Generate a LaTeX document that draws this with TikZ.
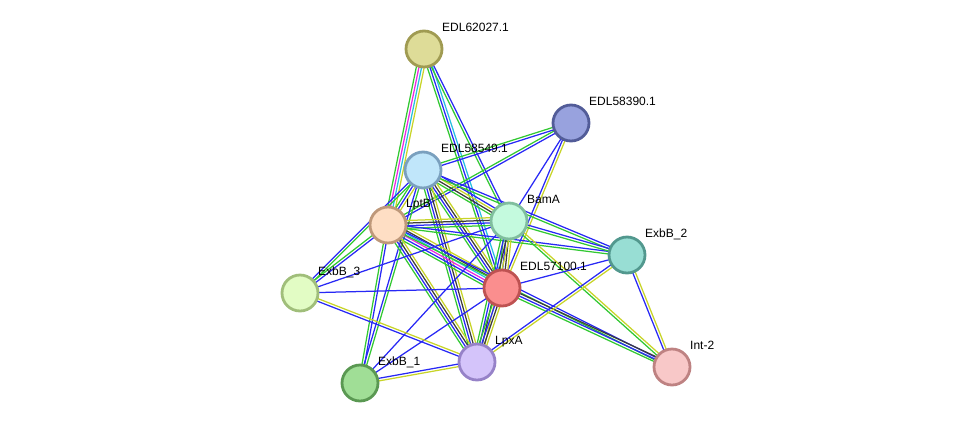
\documentclass[tikz,border=0pt]{standalone}
\usepackage{fontspec}
\setmainfont{Liberation Sans}
\usetikzlibrary{calc,backgrounds}
\definecolor{cG}{RGB}{50,200,50}
\definecolor{cB}{RGB}{40,40,245}
\definecolor{cC}{RGB}{40,190,225}
\definecolor{cY}{RGB}{200,212,40}
\definecolor{cM}{RGB}{235,40,225}
\definecolor{cK}{RGB}{60,60,60}
\newcount\ecount
\newcommand\medge[3]{%
  \global\ecount=0
  \foreach \cc in {#3}{\global\advance\ecount by 1}%
  \foreach \cc [count=\ii] in {#3}{%
    \pgfmathsetmacro\off{(\ii-(\the\ecount+1)/2)*2.6}%
    \draw[edgeline, \cc] ($(#1)!\off pt!90:(#2)$) -- ($(#2)!\off pt!-90:(#1)$);
  }%
}
\tikzset{
  prot/.style n args={2}{circle, minimum size=36pt, inner sep=0pt, line width=2.8pt, fill=#1, draw=#2},
  lbl/.style={anchor=base west, inner sep=0pt, font=\fontsize{12}{14}\selectfont, text=black},
  edgeline/.style={line width=1.25pt}
}
\definecolor{f62}{RGB}{222,220,152}\definecolor{b62}{RGB}{160,155,82}
\definecolor{f390}{RGB}{152,162,222}\definecolor{b390}{RGB}{82,92,152}
\definecolor{f549}{RGB}{192,230,250}\definecolor{b549}{RGB}{122,160,190}
\definecolor{fLptB}{RGB}{254,222,196}\definecolor{bLptB}{RGB}{190,152,122}
\definecolor{fBamA}{RGB}{196,250,222}\definecolor{bBamA}{RGB}{128,190,158}
\definecolor{fExb2}{RGB}{152,222,212}\definecolor{bExb2}{RGB}{82,152,142}
\definecolor{f100}{RGB}{250,142,142}\definecolor{b100}{RGB}{190,82,82}
\definecolor{fExb3}{RGB}{226,252,196}\definecolor{bExb3}{RGB}{160,190,122}
\definecolor{fInt}{RGB}{248,200,200}\definecolor{bInt}{RGB}{190,130,130}
\definecolor{fLpxA}{RGB}{212,196,250}\definecolor{bLpxA}{RGB}{150,130,200}
\definecolor{fExb1}{RGB}{160,222,150}\definecolor{bExb1}{RGB}{90,152,82}
\begin{document}
\begin{tikzpicture}[x=1pt,y=-1pt]
\useasboundingbox (0,0) rectangle (976,429);
\node[prot={f62}{b62}] (e62) at (424,49) {};
\node[prot={f390}{b390}] (e390) at (571,123) {};
\node[prot={f549}{b549}] (e549) at (423,170) {};
\node[prot={fLptB}{bLptB}] (lptb) at (388,225) {};
\node[prot={fBamA}{bBamA}] (bama) at (509,221) {};
\node[prot={fExb2}{bExb2}] (exb2) at (627,255) {};
\node[prot={f100}{b100}] (e100) at (502,288) {};
\node[prot={fExb3}{bExb3}] (exb3) at (300,293) {};
\node[prot={fInt}{bInt}] (int2) at (672,367) {};
\node[prot={fLpxA}{bLpxA}] (lpxa) at (477,362) {};
\node[prot={fExb1}{bExb1}] (exb1) at (360,383) {};
\begin{scope}[on background layer]
\medge{e62}{lptb}{cG,cM,cC,cY}
\medge{e62}{e100}{cG,cB,cC}
\medge{e62}{bama}{cG,cB}
\medge{e390}{e549}{cG,cB}
\medge{e390}{lptb}{cG,cB}
\medge{e390}{e100}{cB,cY}
\medge{e390}{bama}{cB}
\medge{e549}{lptb}{cG,cB,cY}
\medge{e549}{bama}{cG,cK,cY,cB}
\medge{e549}{e100}{cG,cB,cK,cY}
\medge{e549}{lpxa}{cG,cB,cK,cY}
\medge{e549}{exb2}{cG,cB}
\medge{e549}{exb3}{cB,cG}
\medge{e549}{exb1}{cB,cG}
\medge{lptb}{bama}{cG,cB,cK,cY}
\medge{lptb}{e100}{cG,cB,cM,cC,cK,cY}
\medge{lptb}{lpxa}{cG,cB,cK,cY}
\medge{lptb}{exb3}{cG,cB}
\medge{lptb}{exb1}{cG,cB}
\medge{lptb}{exb2}{cG,cB}
\medge{lptb}{int2}{cG,cB}
\medge{bama}{e100}{cG,cB,cK,cY}
\medge{bama}{lpxa}{cG,cB,cK,cY}
\medge{bama}{exb2}{cG,cB}
\medge{bama}{exb3}{cB}
\medge{bama}{exb1}{cB}
\medge{bama}{int2}{cG,cY}
\medge{e100}{exb3}{cB}
\medge{e100}{exb2}{cB}
\medge{e100}{lpxa}{cG,cB,cK,cY}
\medge{e100}{exb1}{cB}
\medge{e100}{int2}{cG,cB,cK}
\medge{exb3}{lpxa}{cB,cY}
\medge{exb1}{lpxa}{cY,cB}
\medge{exb2}{int2}{cB,cY}
\medge{exb2}{lpxa}{cB,cY}
\end{scope}
\node[lbl] (l62) at ($(e62)+(18,-18)$) {EDL62027.1};
\node[lbl] (l390) at ($(e390)+(18,-18)$) {EDL58390.1};
\node[lbl] (l549) at ($(e549)+(18,-18)$) {EDL58549.1};
\node[lbl] (llptb) at ($(lptb)+(18,-18)$) {LptB};
\node[lbl] (lbama) at ($(bama)+(18,-18)$) {BamA};
\node[lbl] (lexb2) at ($(exb2)+(18,-18)$) {ExbB\_2};
\node[lbl] (l100) at ($(e100)+(18,-18)$) {EDL57100.1};
\node[lbl] (lexb3) at ($(exb3)+(18,-18)$) {ExbB\_3};
\node[lbl] (lint2) at ($(int2)+(18,-18)$) {Int-2};
\node[lbl] (llpxa) at ($(lpxa)+(18,-18)$) {LpxA};
\node[lbl] (lexb1) at ($(exb1)+(18,-18)$) {ExbB\_1};
\end{tikzpicture}
\end{document}
